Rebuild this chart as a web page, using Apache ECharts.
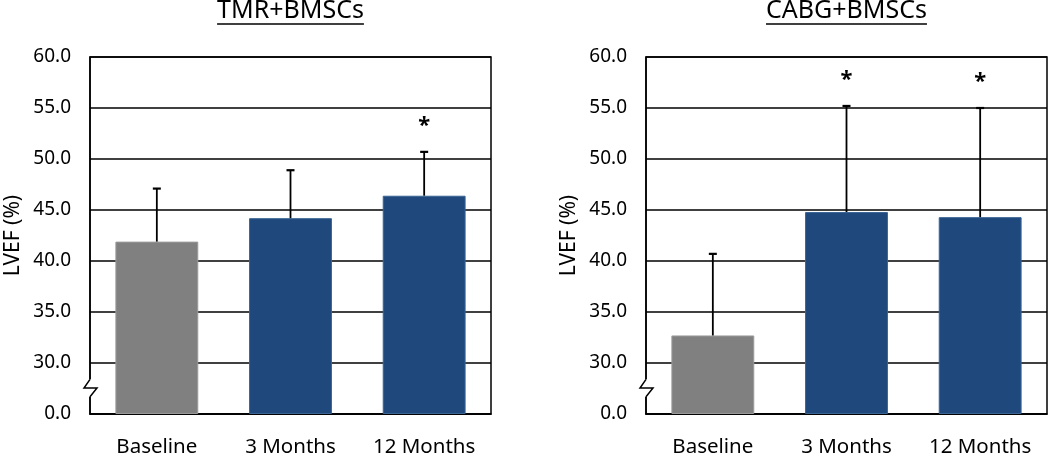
<!DOCTYPE html>
<html>
<head>
<meta charset="utf-8">
<script src="https://cdn.jsdelivr.net/npm/echarts@6/dist/echarts.min.js"></script>
<style>html,body{margin:0;padding:0;background:#fff}#c{width:1050px;height:456px}</style>
</head>
<body>
<div id="c"></div>
<script>
// ---- data ----
const categories = ['Baseline', '3 Months', '12 Months'];
const panelTitles = ['TMR+BMSCs', 'CABG+BMSCs'];
const yAxisName = 'LVEF (%)';
const yTickLabels = ['0.0', '30.0', '35.0', '40.0', '45.0', '50.0', '55.0', '60.0'];
const tmrMean = [41.9, 44.2, 46.4];
const tmrSD = [5.2, 4.7, 4.3];
const tmrSig = ['', '', '*'];
const cabgMean = [32.7, 44.8, 44.3];
const cabgSD = [8.0, 10.4, 10.7];
const cabgSig = ['', '*', '*'];

// ---- layout / style ----
const FONT = 'Noto Sans';
const GRAY = '#808080', BLUE = '#1F497D';
const grids = [
  {left: 90, right: 559, top: 57, bottom: 42},
  {left: 646, right: 3, top: 57, bottom: 42}
];
// broken axis: 0..30 compressed into one step, then 5 per step
function t(v) { return v <= 30 ? v / 30 : 1 + (v - 30) / 5; }

const chart = echarts.init(document.getElementById('c'), null, {renderer: 'canvas'});

function makeAxes(i) {
  return {
    x: {
      type: 'category', gridIndex: i, data: categories,
      axisLine: {show: true, lineStyle: {color: '#000', width: 1.5}},
      axisTick: {show: false},
      axisLabel: {color: '#000', fontFamily: FONT, fontSize: 20.5, margin: 23}
    },
    y: {
      type: 'value', gridIndex: i, min: 0, max: 7, interval: 1,
      name: yAxisName, nameLocation: 'middle', nameGap: 66, nameRotate: 90,
      nameTextStyle: {color: '#000', fontFamily: FONT, fontSize: 21},
      axisLine: {show: true, lineStyle: {color: '#000', width: 1.5}},
      axisTick: {show: false},
      axisLabel: {color: '#000', fontFamily: FONT, fontSize: 19, margin: 19,
        formatter: v => yTickLabels[Math.round(v)]},
      splitLine: {show: true, lineStyle: {color: '#000', width: 1.5}}
    }
  };
}
const a0 = makeAxes(0), a1 = makeAxes(1);

function barSeries(i, means) {
  return {
    type: 'bar', xAxisIndex: i, yAxisIndex: i, barWidth: '62%', z: 3,
    data: means.map((m, k) => ({
      value: t(m),
      itemStyle: {color: k === 0 ? GRAY : BLUE, borderColor: k === 0 ? '#9a9a9a' : '#3a6494', borderWidth: 1}
    }))
  };
}
function errSeries(i, means, sds, sig) {
  return {
    type: 'custom', xAxisIndex: i, yAxisIndex: i, z: 4,
    data: means.map((m, k) => [k, t(m), t(m + sds[k])]),
    renderItem: function (params, api) {
      const k = api.value(0);
      const p0 = api.coord([k, api.value(1)]);
      const p1 = api.coord([k, api.value(2)]);
      const children = [
        {type: 'line', shape: {x1: p0[0], y1: p0[1], x2: p1[0], y2: p1[1]}, style: {stroke: '#000', lineWidth: 1.8}},
        {type: 'line', shape: {x1: p1[0] - 4, y1: p1[1], x2: p1[0] + 4, y2: p1[1]}, style: {stroke: '#000', lineWidth: 2.2}}
      ];
      if (sig[k]) {
        children.push({type: 'text', x: p1[0], y: p1[1] - 26,
          style: {text: sig[k], fill: '#000', font: 'bold 22px ' + FONT, align: 'center', verticalAlign: 'middle'}});
      }
      return {type: 'group', children: children};
    }
  };
}

chart.setOption({
  animation: false,
  backgroundColor: '#fff',
  grid: grids.map(g => Object.assign({show: true, borderColor: '#000', borderWidth: 1.5,
    containLabel: false, outerBoundsMode: 'none'}, g)),
  xAxis: [a0.x, a1.x],
  yAxis: [a0.y, a1.y],
  series: [
    barSeries(0, tmrMean), errSeries(0, tmrMean, tmrSD, tmrSig),
    barSeries(1, cabgMean), errSeries(1, cabgMean, cabgSD, cabgSig)
  ]
});

// titles with underline + axis break marks
const ctx = document.createElement('canvas').getContext('2d');
const titleFont = '25px "' + FONT + '"';
ctx.font = titleFont;
const graphics = [];
const W = 1050;
grids.forEach((g, i) => {
  const gl = g.left, gr = W - g.right;
  const cx = (gl + gr) / 2;
  const tw = ctx.measureText(panelTitles[i]).width;
  graphics.push({type: 'text', x: cx, y: 11, z: 10,
    style: {text: panelTitles[i], fill: '#000', font: titleFont, align: 'center', verticalAlign: 'middle'}});
  graphics.push({type: 'line', z: 10, shape: {x1: cx - tw / 2, y1: 24, x2: cx + tw / 2, y2: 24},
    style: {stroke: '#000', lineWidth: 1.3}});
  const yTop = chart.convertToPixel({yAxisIndex: i}, 0.68);
  const yBot = chart.convertToPixel({yAxisIndex: i}, 0.34);
  const yMid = (yTop + yBot) / 2;
  graphics.push({type: 'rect', z: 10, shape: {x: gl - 3, y: yTop, width: 6, height: yBot - yTop}, style: {fill: '#fff'}});
  graphics.push({type: 'polyline', z: 11,
    shape: {points: [[gl, yTop], [gl - 6, yMid], [gl + 7, yMid], [gl, yBot]]},
    style: {stroke: '#000', lineWidth: 1.5, fill: null}});
});
chart.setOption({graphic: graphics});
</script>
</body>
</html>
